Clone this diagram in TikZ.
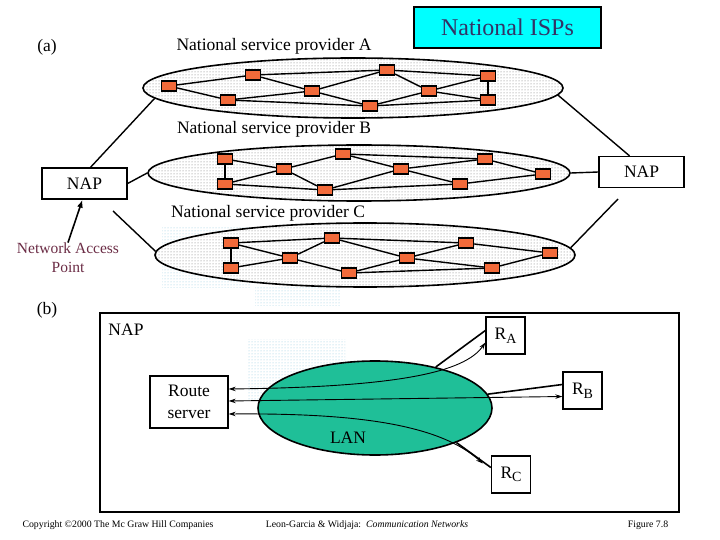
\documentclass[tikz,border=0pt]{standalone}
\usepackage{fontspec}
\setmainfont{Liberation Serif}
\usetikzlibrary{arrows.meta,patterns,positioning,shapes.geometric}
\definecolor{routerorange}{HTML}{F26A3A}
\definecolor{ispcyan}{HTML}{00FFFF}
\definecolor{ispnavy}{HTML}{333366}
\definecolor{lanteal}{HTML}{1FBF98}
\definecolor{napmaroon}{HTML}{6B2C45}
\definecolor{shadeblue}{HTML}{8CC8DC}
\newcommand{\rname}[1]{R\raisebox{-0.45ex}{\fontsize{14}{14}\selectfont #1}}

\begin{document}
\begin{tikzpicture}[x=1pt, y=-1pt,
  every node/.style={font=\fontsize{17.5}{20}\selectfont},
  router/.style={draw, line width=1.2pt, fill=routerorange, minimum width=15pt, minimum height=10pt, inner sep=0pt},
  link/.style={line width=1.4pt},
  cloud/.style={ellipse, draw, line width=1.6pt, inner sep=0pt, preaction={fill=white}, pattern=dots, pattern color=black!55},
  napbox/.style={draw, line width=1.3pt, fill=white, minimum width=85pt, minimum height=31pt, inner sep=0pt},
  rbox/.style={draw, line width=1.3pt, fill=white, minimum width=39pt, minimum height=37pt, inner sep=0pt},
  shade/.style={pattern=dots, pattern color=shadeblue},
  route/.style={line width=0.9pt, {Stealth[length=7pt,width=4.5pt]}-{Stealth[length=7pt,width=4.5pt]}},
  attach/.style={line width=1.6pt}]
  \useasboundingbox (0,0) rectangle (720,540);

  % faint shading left behind the providers
  \fill[shade] (162,228) rectangle (250,287);
  \fill[shade] (255,287) rectangle (340,305);
  \fill[shade] (248,339) rectangle (345,400);

  % (a) national service providers
  \node[cloud, minimum width=420pt, minimum height=60pt] (ispA) at (353,88) {};
  \node[cloud, minimum width=422pt, minimum height=56pt] (ispB) at (359,173) {};
  \node[cloud, minimum width=420pt, minimum height=64pt] (ispC) at (365,255) {};

  \foreach \n/\x/\y in {a1/169/86, a2/253/75, a3/228/100, a4/312/91, a5/387/70, a6/370/106, a7/429/91, a8/488/76, a9/488/100,
                        b1/225/159, b2/225/184, b3/284/169, b4/343/154, b5/325/190, b6/401/169, b7/485/159, b8/460/184, b9/543/174,
                        c1/231/243, c2/231/268, c3/290/258, c4/332/238, c5/349/273, c6/407/258, c7/466/243, c8/492/268, c9/550/253}
    \node[router] (\n) at (\x,\y) {};

  \foreach \u/\v in {a1/a2, a1/a3, a2/a4, a2/a5, a3/a4, a3/a6, a4/a5, a4/a6, a5/a7, a5/a8, a6/a7, a6/a9, a7/a8, a7/a9, a8/a9,
                     b1/b2, b1/b3, b2/b3, b2/b5, b3/b4, b3/b5, b4/b6, b4/b7, b5/b6, b5/b8, b6/b7, b6/b8, b7/b9, b8/b9,
                     c1/c2, c1/c3, c1/c4, c2/c3, c3/c4, c3/c5, c4/c6, c4/c7, c5/c6, c5/c8, c6/c7, c6/c8, c7/c9, c8/c9}
    \draw[link] (\u) -- (\v);

  \node (tagA) at (47,47) {(a)};
  \node (capA) at (274,46) {National service provider A};
  \node (capB) at (274,129) {National service provider B};
  \node (capC) at (268,213) {National service provider C};
  \node[draw, line width=2.2pt, fill=ispcyan, minimum width=187pt, minimum height=41pt, text=ispnavy, font=\fontsize{24}{27}\selectfont] (isps) at (507.5,27.5) {National ISPs};

  \node[napbox] (napL) at (84.5,183.5) {NAP};
  \node[napbox] (napR) at (641.5,172) {NAP};
  \node[align=center, text=napmaroon, font=\fontsize{15.5}{19}\selectfont] (napnote) at (68,258) {Network Access\\Point};
  \coordinate (napLlow) at (113,211);
  \coordinate (napRlow) at (618,199);

  \draw[link] ([xshift=6pt]napL.north) -- (ispA.183);
  \draw[link] (napL.east) -- (ispB.west);
  \draw[link] (napLlow) -- (ispC.179);
  \draw[link] ([xshift=-12pt]napR.north) -- (ispA.358.6);
  \draw[link] (napR.west) -- (ispB.east);
  \draw[link] (napRlow) -- (ispC.2);
  \draw[-{Latex[length=8pt,width=6pt]}, line width=1.6pt] ([yshift=-3pt]napnote.north) -- ([xshift=-2pt]napL.south);

  % (b) inside a NAP
  \node (tagB) at (47,310) {(b)};
  \draw[line width=1.7pt] (100,313) rectangle (679,512);
  \node (napB) at (126,330) {NAP};
  \node[ellipse, draw, line width=1.6pt, fill=lanteal, minimum width=234pt, minimum height=94pt] (lan) at (375,408) {};
  \node (lantext) at (348,438) {LAN};
  \node[draw, line width=1.3pt, fill=white, minimum width=78pt, minimum height=52pt, align=center, font=\fontsize{17.5}{22}\selectfont] (rs) at (189,402) {Route\\server};
  \node[rbox] (ra) at (505.5,335.5) {\rname{A}};
  \node[rbox] (rb) at (582.5,390.5) {\rname{B}};
  \node[rbox] (rc) at (511,474.5) {\rname{C}};

  \draw[attach] (lan.34) -- ([yshift=5pt]ra.west);
  \draw[attach] (lan.7) -- ([yshift=6pt]rb.west);
  \draw[attach] (lan.337) -- ([yshift=7pt]rc.west);
  \draw[route] ([yshift=13pt]rs.east) .. controls (400,387) and (465,372) .. ([yshift=-7pt]ra.west);
  \draw[route] ([yshift=1pt]rs.east) -- ([yshift=-6pt]rb.west);
  \draw[route] ([yshift=-12pt]rs.east) .. controls (360,413) and (440,425) .. ([shift={(-8pt,11pt)}]rc.west);

  \node[font=\fontsize{9.8}{11}\selectfont] (copy) at (118,525) {Copyright \textcopyright 2000 The Mc Graw Hill Companies};
  \node[font=\fontsize{9.8}{11}\selectfont] (book) at (367,525) {Leon-Garcia \& Widjaja:\ \ \textit{Communication Networks}};
  \node[font=\fontsize{9.8}{11}\selectfont] (fig) at (648,525) {Figure 7.8};
\end{tikzpicture}
\end{document}
